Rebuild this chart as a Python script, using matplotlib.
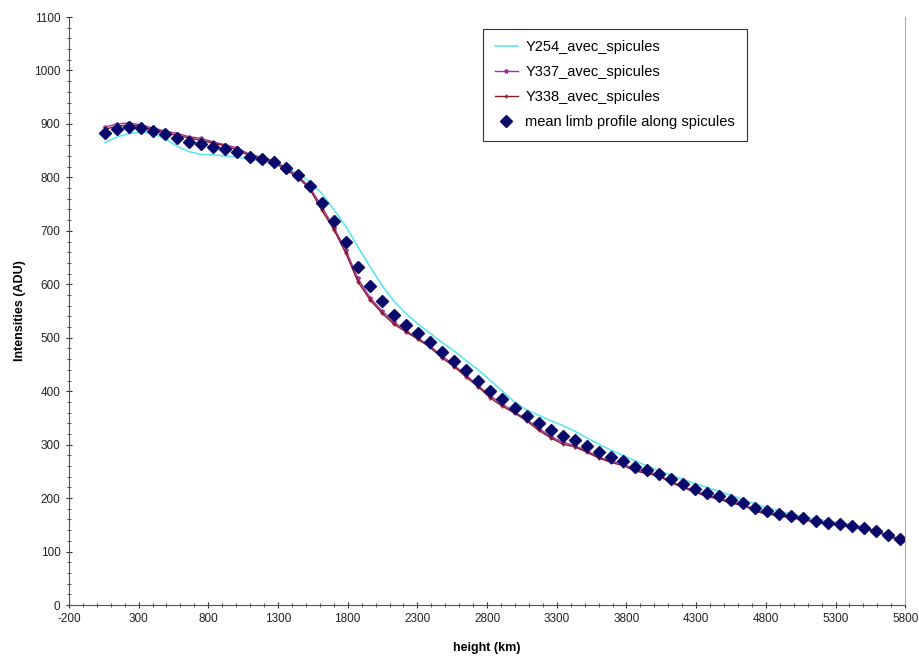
import matplotlib
matplotlib.use("Agg")
import matplotlib.pyplot as plt
from matplotlib.ticker import MultipleLocator, FixedLocator

plt.rcParams['font.family'] = ['Liberation Sans', 'DejaVu Sans']
plt.rcParams['axes.unicode_minus'] = False

# hauteur (km)
height = [59, 145, 232, 318, 405, 491, 577, 664, 750, 837,
          923, 1009, 1096, 1182, 1269, 1355, 1441, 1528, 1614, 1701,
          1787, 1873, 1960, 2046, 2133, 2219, 2305, 2392, 2478, 2565,
          2651, 2737, 2824, 2910, 2997, 3083, 3169, 3256, 3342, 3429,
          3515, 3601, 3688, 3774, 3861, 3947, 4033, 4120, 4206, 4293,
          4379, 4465, 4552, 4638, 4725, 4811, 4897, 4984, 5070, 5157,
          5243, 5329, 5416, 5502, 5589, 5675, 5761]

y254 = [865, 876, 882, 885, 882, 872, 858, 848, 843, 842,
        840, 838, 834, 830, 825, 818, 808, 792, 770, 740,
        708, 670, 633, 598, 568, 545, 526, 508, 491, 475,
        457, 440, 420, 400, 380, 365, 355, 345, 336, 325,
        313, 301, 290, 280, 270, 260, 251, 243, 235, 227,
        220, 213, 205, 197, 189, 182, 176, 170, 165, 161,
        157, 154, 150, 146, 139, 132, 124]

y337 = [894, 900, 902, 898, 892, 887, 882, 876, 873, 866,
        861, 855, 843, 838, 831, 818, 803, 782, 745, 706,
        664, 611, 575, 550, 529, 513, 499, 484, 466, 448,
        430, 410, 391, 376, 361, 347, 331, 315, 305, 298,
        288, 277, 269, 265, 253, 250, 243, 231, 222, 213,
        205, 200, 192, 189, 177, 172, 169, 165, 161, 157,
        153, 152, 148, 145, 139, 131, 123]

y338 = [890, 896, 898, 896, 888, 885, 878, 874, 869, 864,
        859, 851, 841, 834, 829, 814, 801, 778, 739, 702,
        658, 605, 571, 546, 525, 511, 497, 482, 462, 446,
        426, 408, 387, 372, 359, 345, 327, 313, 301, 296,
        286, 275, 267, 261, 251, 246, 241, 229, 220, 211,
        203, 198, 190, 187, 175, 170, 167, 163, 159, 155,
        151, 150, 146, 143, 137, 129, 121]

mean_profile = [883, 891, 894, 893, 887, 881, 873, 866, 862, 857,
                853, 848, 839, 834, 828, 817, 804, 784, 752, 719,
                680, 633, 597, 568, 543, 524, 508, 492, 474, 457,
                439, 420, 401, 385, 368, 354, 340, 328, 317, 309,
                298, 286, 277, 270, 259, 253, 245, 235, 226, 217,
                210, 204, 196, 191, 181, 175, 171, 166, 162, 158,
                154, 152, 148, 145, 138, 131, 123]

fig = plt.figure(figsize=(9.19, 6.6), dpi=100)
ax = fig.add_axes([0.075, 0.0833, 0.910, 0.8909])

ax.plot(height, y254, color='#5fe6f0', lw=1.2, label='Y254_avec_spicules')
ax.plot(height, y337, color='#a0309a', lw=1.0, marker='*', ms=3,
        label='Y337_avec_spicules')
ax.plot(height, y338, color='#8a1a2a', lw=1.0, marker='+', ms=3,
        label='Y338_avec_spicules')
ax.plot(height, mean_profile, ls='none', marker='D', ms=6.5, color='#0a0a6a',
        label='mean limb profile along spicules')

ax.set_xlim(-200, 5800)
ax.set_ylim(0, 1100)
ax.xaxis.set_major_locator(FixedLocator(range(-200, 5801, 500)))
ax.xaxis.set_minor_locator(MultipleLocator(100))
ax.yaxis.set_major_locator(MultipleLocator(100))
ax.yaxis.set_minor_locator(MultipleLocator(20))
ax.tick_params(which='both', direction='inout', colors='#333333',
               labelsize=8.5, labelcolor='#222222')
ax.tick_params(which='major', length=5)
ax.tick_params(which='minor', length=3)

for s in ['left', 'bottom']:
    ax.spines[s].set_color('#555555')
ax.spines['top'].set_visible(False)
ax.spines['right'].set_color('#aaaaaa')

ax.set_xlabel('height (km)', fontsize=9, fontweight='bold', labelpad=12)
ax.set_ylabel('Intensities (ADU)', fontsize=9, fontweight='bold', labelpad=6)

leg = ax.legend(loc='upper left', bbox_to_anchor=(0.495, 0.98), fontsize=10.5,
                fancybox=False, edgecolor='#333333', framealpha=1,
                borderaxespad=0, handlelength=1.6, handletextpad=0.5,
                borderpad=0.8, labelspacing=0.75)
leg.get_frame().set_linewidth(0.8)

fig.savefig('out.png', dpi=100)
